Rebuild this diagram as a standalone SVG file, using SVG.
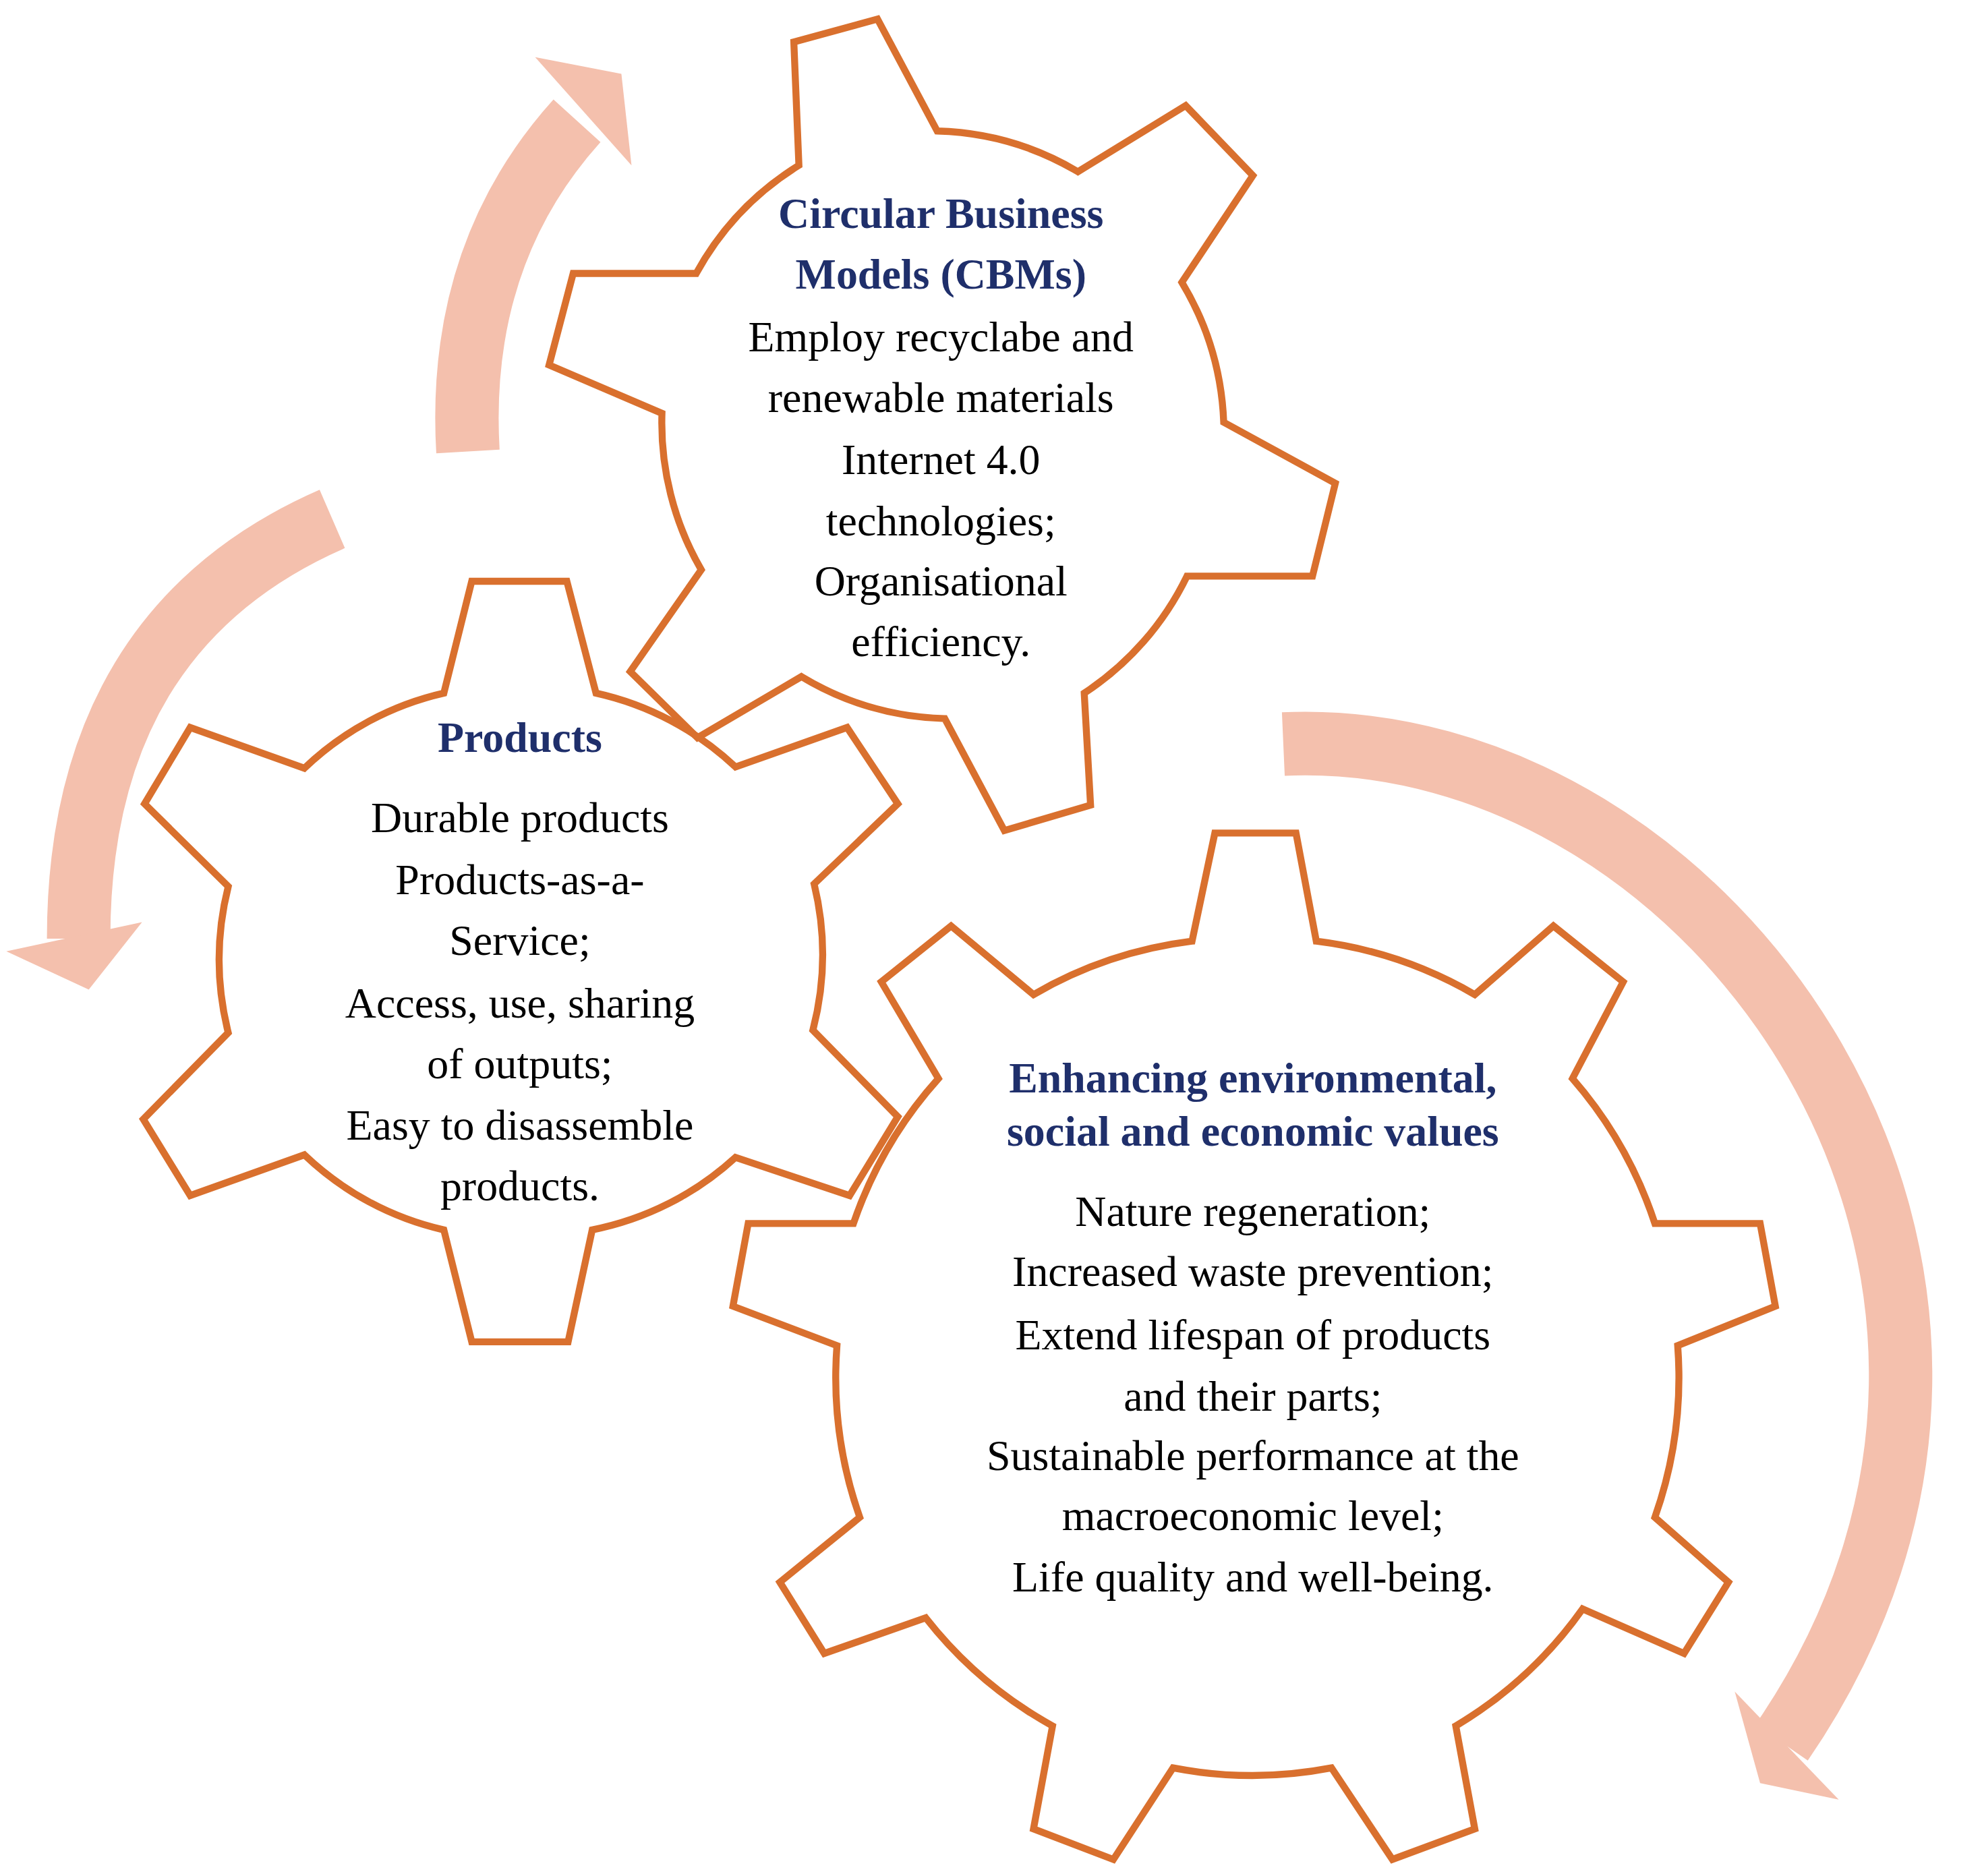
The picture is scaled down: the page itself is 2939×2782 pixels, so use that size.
<svg xmlns="http://www.w3.org/2000/svg" width="2939" height="2782" viewBox="0 0 2939 2782">
<style>
.g{fill:none;stroke:#D9702E;stroke-width:5.5;stroke-linejoin:miter}
.ar{fill:none;stroke:#F4C0AD;stroke-width:50}
.hd{fill:#F4C0AD}
text{font-family:"Liberation Serif",serif;font-size:34px;text-anchor:middle;fill:#000}
.t{font-weight:bold;fill:#1F2F6B}
</style>
<rect width="2939" height="2782" fill="#fff"/>
<g transform="scale(1.8804,1.8861)">
<g id="connectors">
<path class="ar" d="M369 355 Q360 200 455 95"/>
<polygon class="hd" points="422,45 490,58 498,130"/>
<path class="ar" d="M262 408 Q62 495 62 738"/>
<polygon class="hd" points="5,748 70,778 112,725"/>
<path class="ar" d="M1012 585 C1350 570 1660 1000 1405 1370"/>
<polygon class="hd" points="1368,1330 1388,1402 1450,1415"/>
</g>
<g id="cbm">
<path class="g" d="M626 33 L692 15 L739 103 A230 230 0 0 1 850 135 L935 83 L988 138 L932 222 A230 230 0 0 1 965 332 L1053 380 L1035 453 L936 453 A230 230 0 0 1 855 545 L860 633 L792 653 L745 565 A230 230 0 0 1 632 532 L550 580 L497 528 L553 448 A230 230 0 0 1 522 325 L433 287 L452 215 L549 215 A230 230 0 0 1 630 130 Z"/>
<text class="t" x="742" y="179">Circular Business</text>
<text class="t" x="742" y="227">Models (CBMs)</text>
<text x="742" y="276">Employ recyclabe and</text>
<text x="742" y="324">renewable materials</text>
<text x="742" y="373">Internet 4.0</text>
<text x="742" y="421">technologies;</text>
<text x="742" y="468">Organisational</text>
<text x="742" y="516">efficiency.</text>
</g>
<g id="products">
<path class="g" d="M372 457 L447 457 L470 545 A235 235 0 0 1 580 603 L668 572 L708 632 L642 695 A235 235 0 0 1 641 810 L708 878 L670 940 L580 910 A235 235 0 0 1 467 967 L448 1055 L372 1055 L350 967 A235 235 0 0 1 240 908 L150 940 L113 880 L180 812 A235 235 0 0 1 180 697 L114 632 L150 572 L240 604 A235 235 0 0 1 350 545 Z"/>
<text class="t" x="410" y="591">Products</text>
<text x="410" y="654">Durable products</text>
<text x="410" y="703">Products-as-a-</text>
<text x="410" y="751">Service;</text>
<text x="410" y="800">Access, use, sharing</text>
<text x="410" y="848">of outputs;</text>
<text x="410" y="896">Easy to disassemble</text>
<text x="410" y="944">products.</text>
</g>
<g id="enhancing">
<path class="g" d="M958 655 L1022 655 L1038 740 A330 330 0 0 1 1163 782 L1225 728 L1280 772 L1240 848 A330 330 0 0 1 1305 962 L1388 962 L1400 1027 L1323 1058 A330 330 0 0 1 1305 1193 L1363 1244 L1328 1300 L1248 1265 A330 330 0 0 1 1148 1357 L1163 1438 L1098 1462 L1050 1390 A330 330 0 0 1 925 1390 L878 1462 L815 1438 L830 1357 A330 330 0 0 1 730 1272 L650 1300 L615 1244 L678 1193 A330 330 0 0 1 660 1058 L578 1027 L590 962 L673 962 A330 330 0 0 1 740 848 L695 772 L750 728 L815 782 A330 330 0 0 1 940 740 Z"/>
<text class="t" x="988" y="859">Enhancing environmental,</text>
<text class="t" x="988" y="901">social and economic values</text>
<text x="988" y="964">Nature regeneration;</text>
<text x="988" y="1011">Increased waste prevention;</text>
<text x="988" y="1061">Extend lifespan of products</text>
<text x="988" y="1109">and their parts;</text>
<text x="988" y="1156">Sustainable performance at the</text>
<text x="988" y="1203">macroeconomic level;</text>
<text x="988" y="1251">Life quality and well-being.</text>
</g>
</g>
</svg>
